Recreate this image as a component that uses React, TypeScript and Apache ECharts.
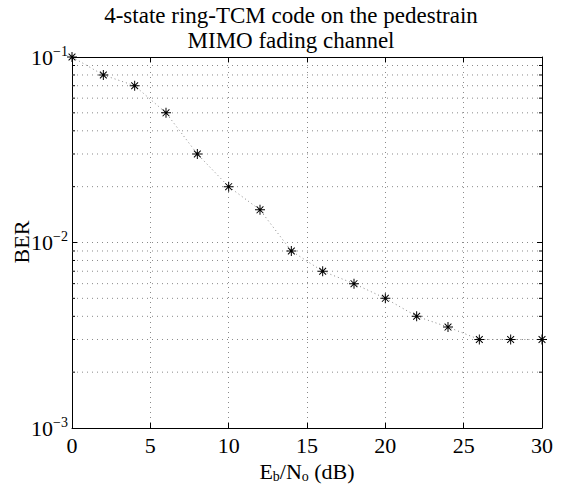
import React, { useEffect, useRef } from "react";
import * as echarts from "echarts";

const ebno: number[] = [0, 2, 4, 6, 8, 10, 12, 14, 16, 18, 20, 22, 24, 26, 28, 30];
const ber: number[] = [0.1, 0.08, 0.07, 0.05, 0.03, 0.02, 0.015, 0.009, 0.007, 0.006, 0.005, 0.004, 0.0035, 0.003, 0.003, 0.003];
const minorGrid: number[] = [
  0.002, 0.003, 0.004, 0.005, 0.006, 0.007, 0.008, 0.009,
  0.02, 0.03, 0.04, 0.05, 0.06, 0.07, 0.08, 0.09,
];
const titleLines: string[] = ["4-state ring-TCM code on the pedestrain", "MIMO fading channel"];
const yTitle = "BER";

const FONT = "'Liberation Serif', 'Times New Roman', serif";
const STAR =
  "path://M9 0H11V20H9Z M0 9H20V11H0Z M2.5 3.9L3.9 2.5L17.5 16.1L16.1 17.5Z M16.1 2.5L17.5 3.9L3.9 17.5L2.5 16.1Z";

export default function App() {
  const ref = useRef<HTMLDivElement>(null);
  useEffect(() => {
    if (!ref.current) return;
    const chart = echarts.init(ref.current, null, { renderer: "svg" });
    const gridLine = { show: true, lineStyle: { type: [1, 4] as any, color: "#8a8a8a", width: 1 } };
    chart.setOption({
      animation: false,
      backgroundColor: "#ffffff",
      graphic: [
        {
          type: "text",
          x: 291,
          y: 3,
          style: {
            text: titleLines.join("\n"),
            textAlign: "center",
            textVerticalAlign: "top",
            fontFamily: FONT,
            fontSize: 23,
            lineHeight: 25,
            fill: "#000",
          },
        },
        {
          type: "text",
          x: 21,
          y: 242,
          rotation: Math.PI / 2,
          style: {
            text: yTitle,
            textAlign: "center",
            textVerticalAlign: "middle",
            fontFamily: FONT,
            fontSize: 22,
            fill: "#000",
          },
        },
      ],
      grid: { left: 72, right: 19, top: 57, bottom: 56, containLabel: false, outerBoundsMode: "none" },
      xAxis: [
        {
          type: "value",
          min: 0,
          max: 30,
          interval: 5,
          position: "bottom",
          axisLine: { show: true, onZero: false, lineStyle: { color: "#000", width: 1 } },
          axisTick: { show: true, inside: true, length: 5, lineStyle: { color: "#000" } },
          axisLabel: { fontFamily: FONT, fontSize: 22, color: "#000", margin: 6 },
          splitLine: gridLine,
          name: "{n|E}{s|b}{n|/N}{s|o}{n| (dB)}",
          nameLocation: "middle",
          nameGap: 26,
          nameTextStyle: {
            rich: {
              n: { fontFamily: FONT, fontSize: 22, color: "#000", lineHeight: 24 },
              s: { fontFamily: FONT, fontSize: 14, color: "#000", verticalAlign: "bottom", lineHeight: 24 },
            },
          },
        },
        {
          type: "value",
          min: 0,
          max: 30,
          interval: 5,
          position: "top",
          axisLine: { show: true, onZero: false, lineStyle: { color: "#000", width: 1 } },
          axisTick: { show: true, inside: true, length: 5, lineStyle: { color: "#000" } },
          axisLabel: { show: false },
          splitLine: { show: false },
        },
      ],
      yAxis: [
        {
          type: "log",
          logBase: 10,
          min: 0.001,
          max: 0.1,
          position: "left",
          axisLine: { show: true, onZero: false, lineStyle: { color: "#000", width: 1 } },
          axisTick: { show: true, inside: true, length: 5, lineStyle: { color: "#000" } },
          axisLabel: {
            margin: 4,
            formatter: (v: number) => {
              const e = Math.round(Math.log10(v));
              return `{b|10}{s|\u2212${-e}}`;
            },
            rich: {
              b: { fontFamily: FONT, fontSize: 22, color: "#000", lineHeight: 26 },
              s: { fontFamily: FONT, fontSize: 14, color: "#000", verticalAlign: "top", lineHeight: 26 },
            },
          },
          splitLine: gridLine,
        },
        {
          type: "log",
          logBase: 10,
          min: 0.001,
          max: 0.1,
          position: "right",
          axisLine: { show: true, onZero: false, lineStyle: { color: "#000", width: 1 } },
          axisTick: { show: true, inside: true, length: 5, lineStyle: { color: "#000" } },
          axisLabel: { show: false },
          splitLine: { show: false },
        },
      ],
      series: [
        {
          type: "custom",
          xAxisIndex: 0,
          yAxisIndex: 0,
          silent: true,
          z: 1,
          data: minorGrid.map((v) => [0, v]),
          renderItem: (params: any, api: any) => {
            const v = api.value(1);
            const l = api.coord([0, v]);
            const r = api.coord([30, v]);
            return {
              type: "group",
              children: [
                {
                  type: "line",
                  shape: { x1: l[0], y1: l[1], x2: r[0], y2: r[1] },
                  style: { stroke: "#8a8a8a", lineWidth: 1, lineDash: [1, 4] },
                },
                {
                  type: "line",
                  shape: { x1: l[0], y1: l[1], x2: l[0] + 3, y2: l[1] },
                  style: { stroke: "#000", lineWidth: 1 },
                },
                {
                  type: "line",
                  shape: { x1: r[0] - 3, y1: r[1], x2: r[0], y2: r[1] },
                  style: { stroke: "#000", lineWidth: 1 },
                },
              ],
            };
          },
        },
        {
          type: "line",
          xAxisIndex: 0,
          yAxisIndex: 0,
          data: ebno.map((x, i) => [x, ber[i]]),
          symbol: STAR,
          symbolSize: 10,
          showAllSymbol: true,
          z: 3,
          itemStyle: { color: "#000" },
          lineStyle: { type: [1, 3] as any, width: 1, color: "#888" },
        },
      ],
    });
    return () => chart.dispose();
  }, []);
  return (
    <div
      ref={ref}
      style={{ position: "fixed", left: 0, top: 0, width: 561, height: 484, background: "#fff" }}
    />
  );
}
